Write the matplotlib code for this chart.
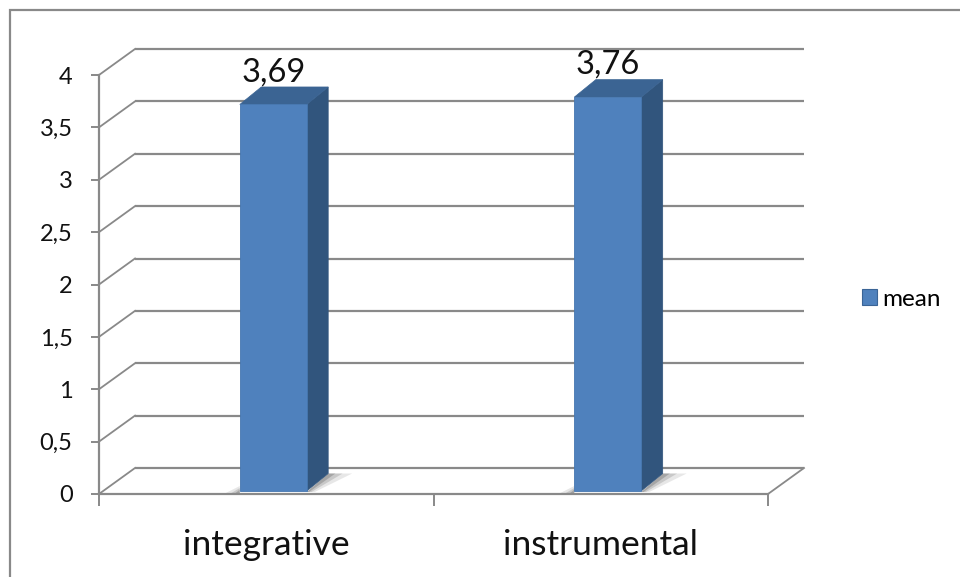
import matplotlib.pyplot as plt
from matplotlib.patches import Polygon, Rectangle, Patch

plt.rcParams['font.family'] = ['Lato', 'DejaVu Sans']

# data
categories = ['integrative', 'instrumental']
values = [3.69, 3.76]
value_labels = ['3,69', '3,76']
yticks = [0, 0.5, 1, 1.5, 2, 2.5, 3, 3.5, 4]
ytick_labels = ['0', '0,5', '1', '1,5', '2', '2,5', '3', '3,5', '4']
series_name = 'mean'

W, H = 960, 577
fig = plt.figure(figsize=(W / 100, H / 100), dpi=100)

# front plane of the pseudo-3d plot area in pixels
x0p, x1p, y0p, y1p = 99, 768, 494, 75
ax = fig.add_axes([x0p / W, 1 - y0p / H, (x1p - x0p) / W, (y0p - y1p) / H])
ax.set_xlim(-0.5, 1.5)
ax.set_ylim(0, 4)
ax.patch.set_alpha(0)

ux = (x1p - x0p) / 2.0   # px per x unit
uy = (y0p - y1p) / 4.0   # px per y unit

grid_col = '#898989'
# depth of the back wall
DX, DY = 36 / ux, 26 / uy
# bar placement inside the depth
fx, fy = 7 / ux, 3 / uy
bx, by = 21.5 / ux, 17.5 / uy
bw = 0.2

# back gridlines and left wall diagonals
for t in yticks:
    ax.plot([-0.5 + DX, 1.5 + DX], [t + DY, t + DY], color=grid_col, lw=1.6,
            clip_on=False, zorder=1, solid_capstyle='butt')
    ax.plot([-0.5, -0.5 + DX], [t, t + DY], color=grid_col, lw=1.3,
            clip_on=False, zorder=1)
# floor right edge
ax.plot([1.5, 1.5 + DX], [0, DY], color=grid_col, lw=1.3, clip_on=False, zorder=1)

front_col = '#4F81BD'
side_col = '#31557D'
top_col = '#3B6493'

for i, v in enumerate(values):
    xl = i - bw / 2 + fx
    xr = i + bw / 2 + fx
    yb = fy
    yt = v + fy
    # soft shadows on the floor
    for k, a in [(1.0, 0.12), (0.6, 0.18), (0.3, 0.25)]:
        ax.add_patch(Polygon([(xr, yb - 1 / uy), (xr + bx, yb + by),
                              (xr + bx + k * 24 / ux, yb + by),
                              (xr + k * 8 / ux, yb - 1 / uy)], closed=True,
                             facecolor='#404040', alpha=a, lw=0, zorder=2, clip_on=False))
        ax.add_patch(Polygon([(xl - k * 14 / ux, yb - 2 / uy), (xl, yb + k * 5 / uy),
                              (xl, yb - 2 / uy)], closed=True, facecolor='#404040',
                             alpha=a, lw=0, zorder=2, clip_on=False))
    # side face
    ax.add_patch(Polygon([(xr, yb), (xr + bx, yb + by), (xr + bx, yt + by), (xr, yt)],
                         closed=True, facecolor=side_col, edgecolor=side_col, lw=0.5,
                         zorder=3, clip_on=False))
    # top face
    ax.add_patch(Polygon([(xl, yt), (xr, yt), (xr + bx, yt + by), (xl + bx, yt + by)],
                         closed=True, facecolor=top_col, edgecolor=top_col, lw=0.5,
                         zorder=3, clip_on=False))
    # data label
    ax.text(i + fx, v + 0.25, value_labels[i], ha='center', va='baseline',
            fontsize=23.5, color='#111111', zorder=5)

ax.bar([i + fx for i in range(len(values))], values, width=bw, bottom=fy,
       color=front_col, edgecolor='#4677B0', lw=0.6, zorder=4, clip_on=False)

# axes
for s in ['top', 'right']:
    ax.spines[s].set_visible(False)
for s in ['left', 'bottom']:
    ax.spines[s].set_color(grid_col)
    ax.spines[s].set_linewidth(1.6)
    ax.spines[s].set_zorder(1)

ax.set_yticks(yticks)
ax.set_yticklabels(ytick_labels, fontsize=17, color='#111111')
ax.tick_params(axis='y', length=6, width=1.4, color=grid_col, pad=13)
ax.set_xticks([-0.5, 0.5, 1.5])
ax.set_xticklabels([])
ax.tick_params(axis='x', length=8.6, width=1.4, color=grid_col)

for i, c in enumerate(categories):
    ax.text(i, -0.585, c, ha='center', va='baseline', fontsize=25.5, color='#111111')

# legend
fig.legend(handles=[Patch(facecolor=front_col, edgecolor='#3A6496', lw=0.8, label=series_name)],
           loc='center left', bbox_to_anchor=(862 / W, 1 - 299 / H), frameon=False,
           fontsize=17.5, handlelength=0.62, handleheight=0.62, handletextpad=0.2,
           borderpad=0, borderaxespad=0)

# chart border
fig.add_artist(Rectangle((10 / W, -0.1), 1.2, 1 - 10 / H + 0.1, transform=fig.transFigure,
                         facecolor='none', edgecolor=grid_col, lw=1.6))

fig.savefig('out.png', dpi=100)
